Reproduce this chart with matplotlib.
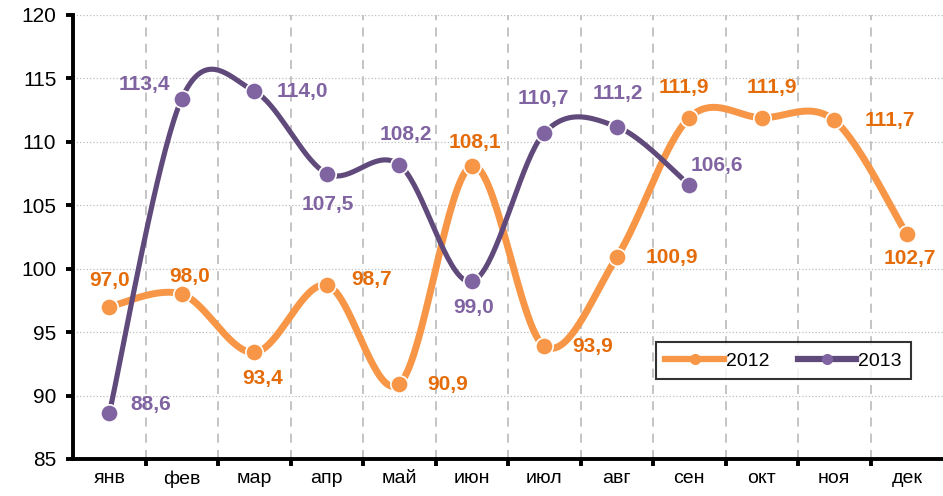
import numpy as np
import matplotlib.pyplot as plt
from matplotlib.lines import Line2D

plt.rcParams['font.family'] = ['Liberation Sans', 'DejaVu Sans']

months = ['янв', 'фев', 'мар', 'апр', 'май', 'июн',
          'июл', 'авг', 'сен', 'окт', 'ноя', 'дек']
v2012 = [97.0, 98.0, 93.4, 98.7, 90.9, 108.1, 93.9, 100.9, 111.9, 111.9, 111.7, 102.7]
v2013 = [88.6, 113.4, 114.0, 107.5, 108.2, 99.0, 110.7, 111.2, 106.6]

# label offsets in points (dx, dy)
off2012 = [(0, 19), (6, 13), (6, -19), (32, 4), (35, 0), (2, 17),
           (35, 0), (40, 0), (-4, 22), (7, 22), (40, 0), (2, -17)]
off2013 = [(30, 6), (-27, 10), (35, 0), (1, -22), (5, 22), (1, -19),
           (-1, 25), (1, 24), (20, 14)]

c12_line, c12_mark, c12_text = '#F79646', '#F79646', '#E46C0A'
c13_line, c13_mark, c13_text = '#604A7B', '#8064A2', '#8064A2'


def smooth(y, n=40):
    # Catmull-Rom style bezier like Excel smoothed lines
    x = np.arange(len(y), dtype=float)
    y = np.asarray(y, dtype=float)
    xs, ys = [], []
    for i in range(len(y) - 1):
        i0, i3 = max(i - 1, 0), min(i + 2, len(y) - 1)
        p0 = np.array([x[i], y[i]])
        p3 = np.array([x[i + 1], y[i + 1]])
        p1 = p0 + (np.array([x[i + 1], y[i + 1]]) - np.array([x[i0], y[i0]])) / 6
        p2 = p3 - (np.array([x[i3], y[i3]]) - np.array([x[i], y[i]])) / 6
        t = np.linspace(0, 1, n)[:, None]
        b = ((1 - t) ** 3) * p0 + 3 * ((1 - t) ** 2) * t * p1 + 3 * (1 - t) * t ** 2 * p2 + t ** 3 * p3
        xs.append(b[:, 0])
        ys.append(b[:, 1])
    return np.concatenate(xs), np.concatenate(ys)


fig = plt.figure(figsize=(9.43, 4.96), dpi=100)
ax = fig.add_axes([73 / 943, 1 - 459 / 496, 1 - 73 / 943, (459 - 15) / 496])

for vals, lc, mc, tc, offs, lw in [(v2012, c12_line, c12_mark, c12_text, off2012, 5.0),
                                   (v2013, c13_line, c13_mark, c13_text, off2013, 3.7)]:
    sx, sy = smooth(vals)
    ax.plot(sx, sy, color=lc, lw=lw, solid_capstyle='butt', zorder=3)
    ax.plot(range(len(vals)), vals, 'o', color=mc, ms=12.5, mec='white', mew=1.2, zorder=4)
    for i, (v, o) in enumerate(zip(vals, offs)):
        ax.annotate(f'{v:.1f}'.replace('.', ','), (i, v), xytext=o, textcoords='offset points',
                    ha='center', va='center', color=tc, fontsize=15, fontweight='bold', zorder=5)

ax.set_xlim(-0.5, 11.5)
ax.set_ylim(85, 120)
ax.set_yticks(np.arange(85, 121, 5))
ax.set_xticks(range(12))
ax.set_xticklabels(months)
ax.set_xticks(np.arange(0.5, 11.5, 1), minor=True)

ax.grid(axis='y', which='major', color='#BFBFBF', ls=':', lw=0.9)
ax.grid(axis='x', which='minor', color='#BFBFBF', ls=(0, (5, 4)), lw=1.3)
ax.set_axisbelow(True)

for s in ['top', 'right']:
    ax.spines[s].set_visible(False)
for s in ['left', 'bottom']:
    ax.spines[s].set_linewidth(2.8)

ax.tick_params(axis='x', which='major', length=0, labelsize=14, pad=8)
ax.tick_params(axis='x', which='minor', length=5, width=2.8, direction='out')
ax.tick_params(axis='y', length=5, width=2.8, labelsize=15, pad=7)

handles = [Line2D([], [], color=c12_line, lw=4.5, marker='o', ms=8, mfc=c12_mark, mec=c12_mark, mew=0),
           Line2D([], [], color=c13_line, lw=4.5, marker='o', ms=8, mfc=c13_mark, mec=c13_mark, mew=0)]
leg = ax.legend(handles, ['2012', '2013'], ncol=2, loc='lower left',
                bbox_to_anchor=((646 - 73) / 870, (459 - 389) / 444, (921 - 646) / 870, 48 / 444),
                mode='expand', fontsize=14, frameon=True, fancybox=False,
                handlelength=3.0, handletextpad=0.1, columnspacing=1.6, borderpad=0.5)
leg.get_frame().set_edgecolor('black')
leg.get_frame().set_linewidth(1.5)

fig.savefig('out.png', dpi=100)
